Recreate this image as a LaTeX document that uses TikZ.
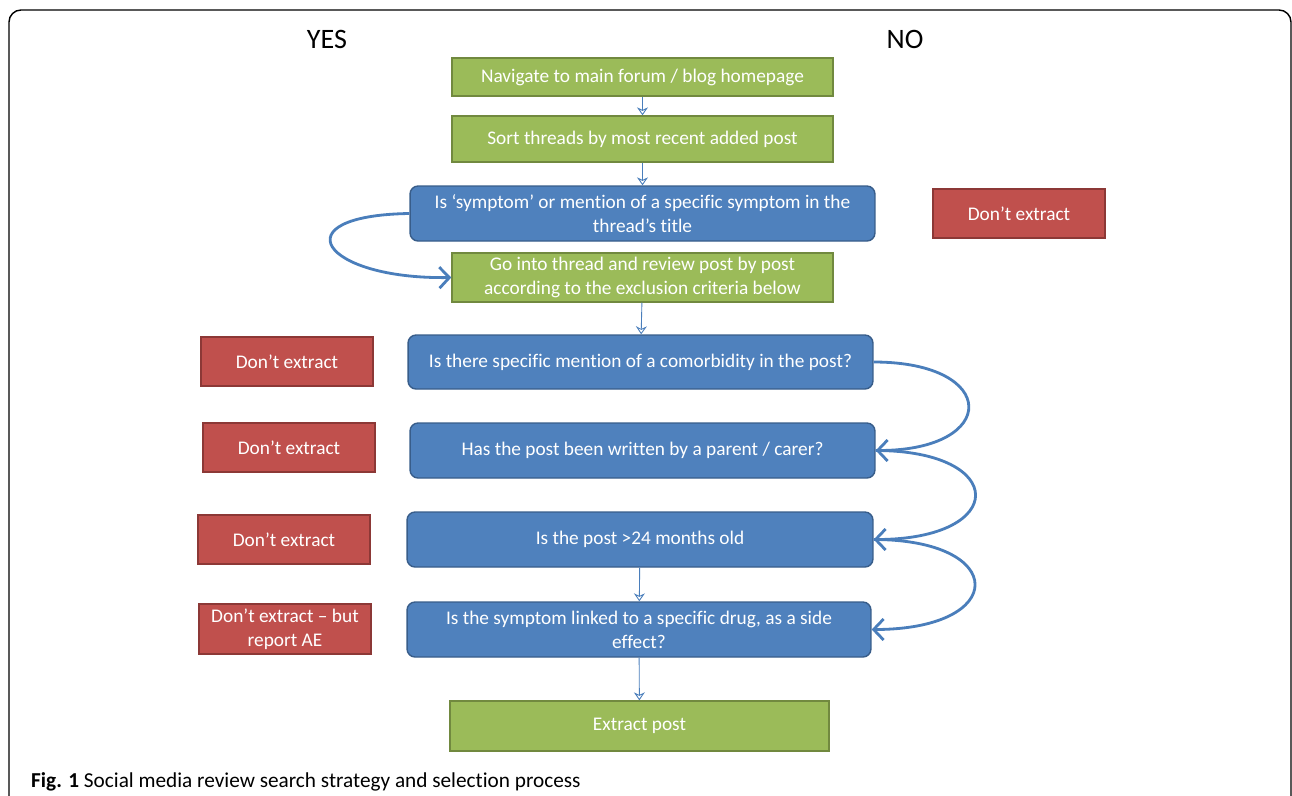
\documentclass[tikz,border=0pt]{standalone}
\usepackage{fontspec}
\setmainfont{Carlito}[Ligatures={NoCommon}]
\usepackage{tikz}
\usepackage{xcolor}
\usetikzlibrary{arrows.meta}
\definecolor{stepgreen}{HTML}{9BBB59}
\definecolor{stepgreenline}{HTML}{71893F}
\definecolor{askblue}{HTML}{4F81BD}
\definecolor{askblueline}{HTML}{385D8A}
\definecolor{stopred}{HTML}{C0504D}
\definecolor{stopredline}{HTML}{8C3836}
\definecolor{flowblue}{HTML}{4A7EBB}
\tikzstyle{stepbox} = [draw=stepgreenline, fill=stepgreen, line width=0.8pt, text=white, font=\fontsize{11}{13.5}\selectfont, align=center, inner sep=0pt]
\tikzstyle{askbox} = [draw=askblueline, fill=askblue, line width=0.8pt, rounded corners=0.16cm, text=white, font=\fontsize{11}{13.5}\selectfont, align=center, inner sep=0pt, minimum width=9.3cm, minimum height=1.1cm]
\tikzstyle{stopbox} = [draw=stopredline, fill=stopred, line width=0.8pt, text=white, font=\fontsize{11}{13.5}\selectfont, align=center, inner sep=0pt, minimum width=3.44cm, minimum height=0.98cm]
\tikzstyle{flow} = [->, >={Stealth[open, length=1.6mm, width=2.2mm]}, flowblue, line width=0.5pt]
\tikzstyle{loop} = [-{Straight Barb[length=2mm, width=4.2mm]}, flowblue, line width=1.6pt]

\begin{document}
\begin{tikzpicture}[x=0.02cm, y=-0.02cm]
    \useasboundingbox (0,0) rectangle (1292,795);
    % Frame
    \draw[line width=0.8pt, rounded corners=0.24cm] (9,10) rectangle (1291,840);

    % Column heads
    \node[font=\fontsize{16}{19}\selectfont] (yes) at (327,39) {YES};
    \node[font=\fontsize{16}{19}\selectfont] (no) at (905,39) {NO};

    % Main steps
    \node[stepbox, minimum width=7.62cm, minimum height=0.76cm] (navigate) at (642.5,77) {Navigate to main forum / blog homepage};
    \node[stepbox, minimum width=7.62cm, minimum height=0.92cm] (sort) at (642.5,139) {Sort threads by most recent added post};
    \node[askbox] (title) at (642.5,213.5) {Is `symptom' or mention of a specific symptom in the\\thread's title};
    \node[stepbox, minimum width=7.62cm, minimum height=0.98cm] (review) at (642.5,277.5) {Go into thread and review post by post\\according to the exclusion criteria below};
    \node[askbox, minimum height=1.08cm] (comorb) at (640.5,362) {Is there specific mention of a comorbidity in the post?};
    \node[askbox] (carer) at (642.5,450.5) {Has the post been written by a parent / carer?};
    \node[askbox, minimum width=9.32cm] (age) at (640,539.5) {Is the post >24 months old};
    \node[askbox, minimum width=9.28cm] (drug) at (639,629.5) {Is the symptom linked to a specific drug, as a side\\effect?};
    \node[stepbox, minimum width=7.58cm, minimum height=1cm] (extract) at (639.5,726) {Extract post};

    % Exits
    \node[stopbox] (stoptitle) at (1019,213.5) {Don’t extract};
    \node[stopbox] (stopcomorb) at (287,361.5) {Don’t extract};
    \node[stopbox] (stopcarer) at (289,447.5) {Don’t extract};
    \node[stopbox] (stopage) at (284,539.5) {Don’t extract};
    \node[stopbox, minimum height=1cm] (stopdrug) at (285,629) {Don’t extract – but\\report AE};

    % Straight arrows
    \draw[flow] (navigate) -- (sort);
    \draw[flow] (sort) -- (title);
    \draw[flow] (review) -- (comorb);
    \draw[flow] (age) -- (drug);
    \draw[flow] (drug) -- (extract);

    % Curved arrows
    \draw[loop] (title.west) .. controls +(-130,2) and +(-130,2) .. (review.west);
    \draw[loop] (comorb.east) .. controls +(126,0) and +(124,0) .. (carer.east);
    \draw[loop] (carer.east) .. controls +(133,0) and +(135,0) .. (age.east);
    \draw[loop] (age.east) .. controls +(135,0) and +(137,0) .. (drug.east);

    % Caption
    \node[anchor=base west, font=\fontsize{12.1}{15}\selectfont] (caption) at (25,787) {\textbf{Fig. 1} Social media review search strategy and selection process};
\end{tikzpicture}
\end{document}
